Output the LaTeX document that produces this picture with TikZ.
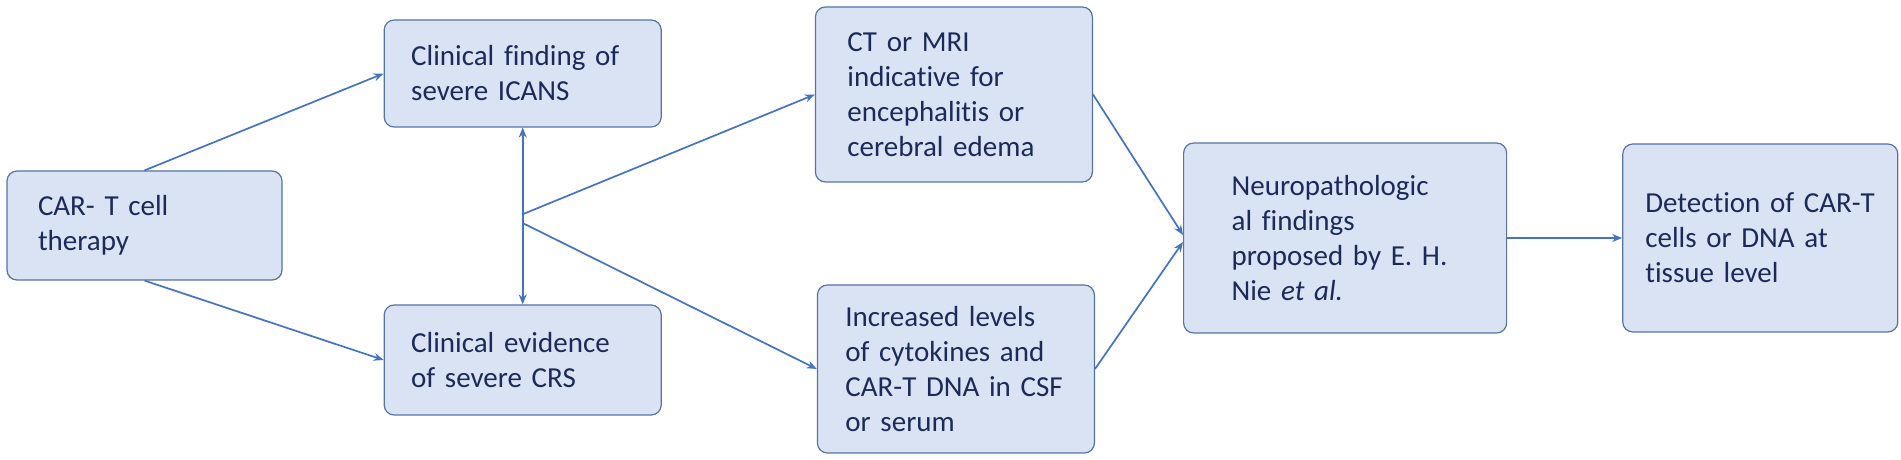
\documentclass[tikz,border=0pt]{standalone}
\usepackage{fontspec}
\setmainfont{Carlito}[Ligatures=NoCommon]
\usepackage{tikz}
\usetikzlibrary{positioning, calc, arrows.meta}
\definecolor{boxfill}{HTML}{DAE3F3}
\definecolor{boxline}{HTML}{5573A6}
\definecolor{boxtext}{HTML}{1B2A5B}
\definecolor{arrowblue}{HTML}{4472C4}

\begin{document}
\begin{tikzpicture}

	\useasboundingbox (0,0) rectangle (1901pt,460pt);

	\tikzstyle{every node}=[font=\fontsize{29}{35}\selectfont, text=boxtext]
	\tikzstyle{stage} = [draw=boxline, line width=1.2pt, fill=boxfill, rounded corners=10pt, align=left, inner ysep=4pt]

	\node[stage, text width=213pt, inner xsep=31pt, minimum height=109pt] (cart) at (144.5pt,234.5pt) {CAR- T cell\\therapy};
	\node[stage, text width=223pt, inner xsep=27pt, minimum height=107pt, right = 101pt of cart, yshift=152pt]    (icans)   {Clinical finding of\\severe ICANS};
	\node[stage, text width=223pt, inner xsep=27pt, minimum height=110pt, right = 101pt of cart, yshift=-134.5pt] (crs)     {Clinical evidence\\of severe CRS};
	\node[stage, text width=213pt, inner xsep=32pt, minimum height=175pt, right = 153pt of icans, yshift=-21pt]   (imaging) {CT or MRI\\indicative for\\encephalitis or\\cerebral edema};
	\node[stage, text width=221pt, inner xsep=28pt, minimum height=168pt, right = 155pt of crs, yshift=-9pt]      (csf)     {Increased levels\\of cytokines and\\\mbox{CAR-T DNA in CSF}\\or serum};
	\node[stage, text width=227pt, inner xsep=48pt, minimum height=190pt, right = 88pt of csf, yshift=131pt]      (neuro)   {Neuropathologic\\al findings\\proposed by E.~H.\\Nie \textit{et al.}};
	\node[stage, text width=230pt, inner xsep=22.5pt, minimum height=188pt, right = 115pt of neuro]               (detect)  {\mbox{Detection of CAR-T}\\cells or DNA at\\tissue level};

	\tikzstyle{arrow} = [draw=arrowblue, line width=1.7pt, ->, >={Stealth[length=10pt,width=8pt]}]
	\tikzstyle{dblarrow} = [arrow, <->]
	\draw[arrow] (cart.north)  --  (icans.west);
	\draw[arrow] (cart.south)  --  (crs.west);
	\draw[dblarrow] (icans.south) -- (crs.north);

	\coordinate (upsplit)   at ($(icans.south)!0.49!(crs.north)$);
	\coordinate (downsplit) at ($(icans.south)!0.54!(crs.north)$);
	\draw[arrow] (upsplit)   --  (imaging.west);
	\draw[arrow] (downsplit) --  (csf.west);
	\draw[arrow] (imaging.east) -- ([yshift=3pt]neuro.west);
	\draw[arrow] (csf.east)     -- ([yshift=-4pt]neuro.west);
	\draw[arrow] (neuro)    --    (detect);

\end{tikzpicture}
\end{document}
